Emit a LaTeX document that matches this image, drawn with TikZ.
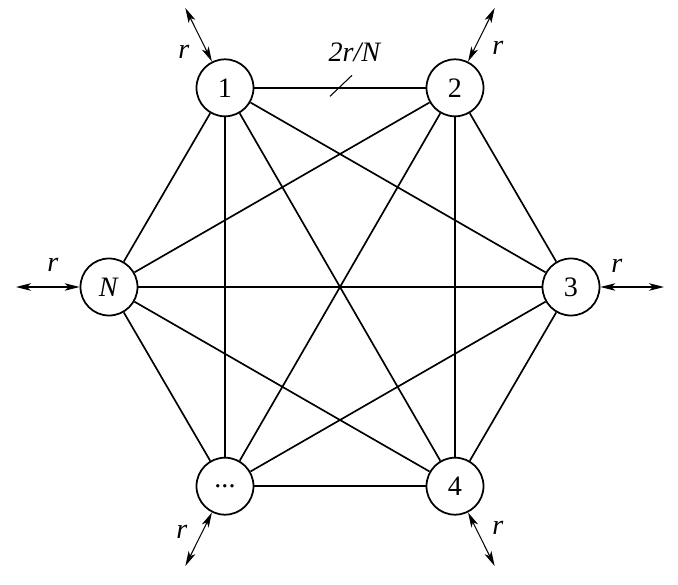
\documentclass[tikz,border=0pt]{standalone}
\usepackage{fontspec}
\setmainfont{Liberation Serif}
\usetikzlibrary{arrows.meta}

\begin{document}
\begin{tikzpicture}[
font=\fontsize{16}{19}\selectfont,
station/.style={
circle,
draw=black,
line width=1pt,
inner sep=0pt,
minimum size=1.14cm
},
link/.style={line width=0.95pt},
flow/.style={
line width=0.6pt,
{Stealth[length=0.3cm,width=0.15cm,inset=0.08cm]}-{Stealth[length=0.3cm,width=0.15cm,inset=0.08cm]}
}
]

\useasboundingbox (-6.8,-5.94) rectangle (6.76,5.74);

% Stations on a regular hexagon
\node[station] (n1) at (120:4.6) {1};
\node[station] (n2) at (60:4.6) {2};
\node[station] (n3) at (0:4.62) {3};
\node[station] (n4) at (-60:4.6) {4};
\node[station] (ndots) at (-120:4.6) {...};
\node[station] (nN) at (180:4.62) {\textit{N}};

% Free ends of the outside arrows
\coordinate (e1) at (119:6.38);
\coordinate (e2) at (61:6.38);
\coordinate (e3) at (0:6.48);
\coordinate (e4) at (-61:6.38);
\coordinate (edots) at (-119:6.38);
\coordinate (eN) at (180:6.48);

% Every station linked to every other one
\draw[link] (n1) -- coordinate (tick) (n2);
\draw[link] (n1) -- (n3);
\draw[link] (n1) -- (n4);
\draw[link] (n1) -- (ndots);
\draw[link] (n1) -- (nN);
\draw[link] (n2) -- (n3);
\draw[link] (n2) -- (n4);
\draw[link] (n2) -- (ndots);
\draw[link] (n2) -- (nN);
\draw[link] (n3) -- (n4);
\draw[link] (n3) -- (ndots);
\draw[link] (n3) -- (nN);
\draw[link] (n4) -- (ndots);
\draw[link] (n4) -- (nN);
\draw[link] (ndots) -- (nN);

% Slash mark and its label on the top link
\draw[line width=0.6pt] (tick) ++(-0.2,-0.17) -- ++(0.44,0.42);
\node (rate) at (0.3,4.7) {\textit{2r/N}};

% Outside arrows
\draw[flow] (e1) -- (n1);
\draw[flow] (e2) -- (n2);
\draw[flow] (e3) -- (n3);
\draw[flow] (e4) -- (n4);
\draw[flow] (edots) -- (ndots);
\draw[flow] (eN) -- (nN);

\node (r1) at (-3.12,4.70) {\textit{r}};
\node (r2) at (3.16,4.78) {\textit{r}};
\node (r3) at (5.54,0.42) {\textit{r}};
\node (r4) at (3.16,-4.82) {\textit{r}};
\node (rdots) at (-3.16,-4.90) {\textit{r}};
\node (rN) at (-5.74,0.44) {\textit{r}};

\end{tikzpicture}
\end{document}
